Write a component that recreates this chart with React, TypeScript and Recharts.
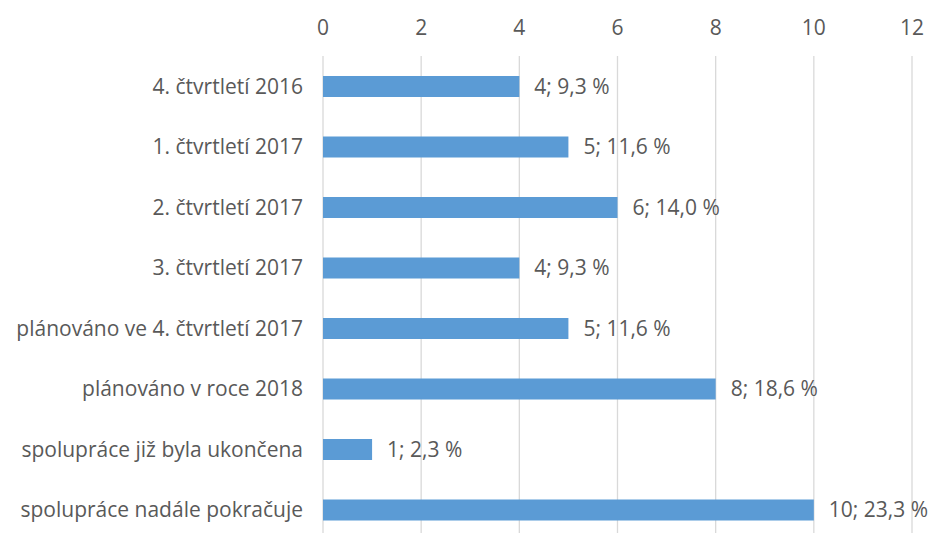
import { Bar, BarChart, CartesianGrid, LabelList, XAxis, YAxis } from "recharts";

const categories = [
  "4. čtvrtletí 2016",
  "1. čtvrtletí 2017",
  "2. čtvrtletí 2017",
  "3. čtvrtletí 2017",
  "plánováno ve 4. čtvrtletí 2017",
  "plánováno v roce 2018",
  "spolupráce již byla ukončena",
  "spolupráce nadále pokračuje",
];
const counts = [4, 5, 6, 4, 5, 8, 1, 10];
const shares = ["9,3", "11,6", "14,0", "9,3", "11,6", "18,6", "2,3", "23,3"];
const xTicks = [0, 2, 4, 6, 8, 10, 12];

const BAR_COLOR = "#5b9bd5";
const TEXT_COLOR = "#595959";
const FONT = "'Open Sans', sans-serif";
const FONT_SIZE = 21;

const data = categories.map((name, i) => ({
  name,
  value: counts[i],
  label: `${counts[i]}; ${shares[i]} %`,
}));

export default function App() {
  return (
    <div
      style={{
        position: "fixed",
        top: 0,
        left: 0,
        width: 933,
        height: 533,
        overflow: "hidden",
        background: "#fff",
        fontFamily: FONT,
      }}
    >
      <BarChart
        width={933}
        height={540}
        data={data}
        layout="vertical"
        margin={{ top: 0, right: 21, bottom: 0, left: 0 }}
        barCategoryGap={0}
      >
        <CartesianGrid horizontal={false} stroke="#d9d9d9" strokeWidth={1.3} />
        <XAxis
          type="number"
          orientation="top"
          domain={[0, 12]}
          ticks={xTicks}
          height={56}
          axisLine={false}
          tickLine={false}
          tickSize={0}
          tickMargin={21}
          tick={{ fill: TEXT_COLOR, fontSize: FONT_SIZE, fontFamily: FONT }}
        />
        <YAxis
          type="category"
          dataKey="name"
          width={323}
          axisLine={false}
          tickLine={false}
          tickSize={0}
          tickMargin={20}
          tick={{ fill: TEXT_COLOR, fontSize: FONT_SIZE, fontFamily: FONT }}
        />
        <Bar dataKey="value" fill={BAR_COLOR} barSize={21} isAnimationActive={false}>
          <LabelList
            dataKey="label"
            position="right"
            offset={15}
            fill={TEXT_COLOR}
            fontSize={FONT_SIZE}
            fontFamily={FONT}
          />
        </Bar>
      </BarChart>
    </div>
  );
}
